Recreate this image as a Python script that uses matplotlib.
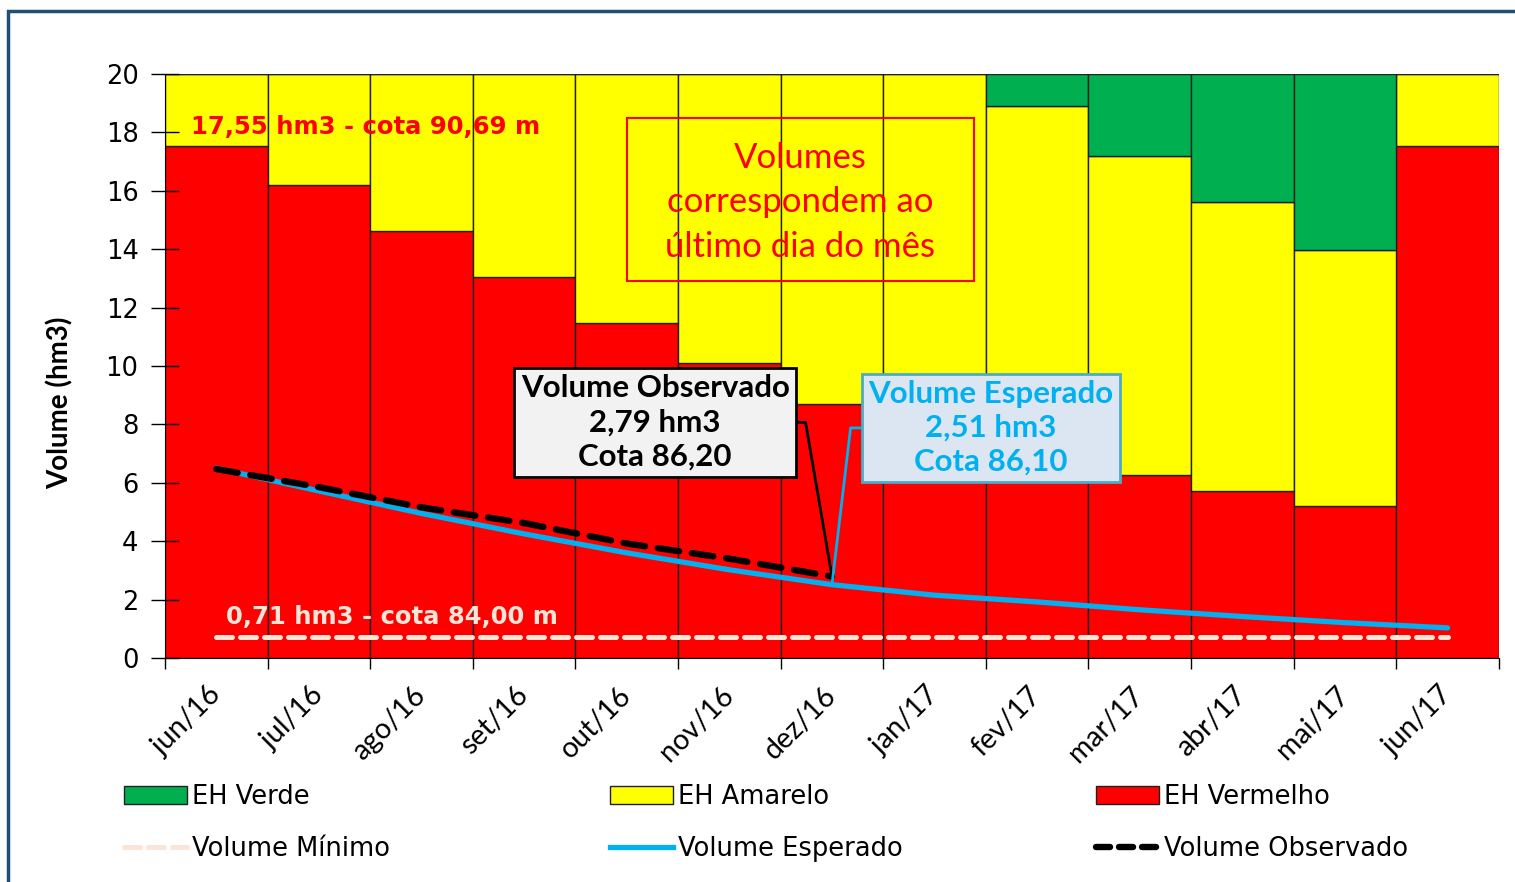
import numpy as np
import matplotlib
matplotlib.use('Agg')
import matplotlib.pyplot as plt
from matplotlib.lines import Line2D
from matplotlib.patches import Patch, Rectangle

# dados
meses = ['jun/16', 'jul/16', 'ago/16', 'set/16', 'out/16', 'nov/16', 'dez/16',
         'jan/17', 'fev/17', 'mar/17', 'abr/17', 'mai/17', 'jun/17']
vermelho = [17.55, 16.2, 14.62, 13.05, 11.47, 10.1, 8.7, 7.7, 6.9, 6.27, 5.72, 5.2, 17.55]
topo_amarelo = [20, 20, 20, 20, 20, 20, 20, 20, 18.9, 17.2, 15.6, 13.97, 20]
volume_max = 20
esperado = [6.5, 5.72, 4.95, 4.25, 3.6, 3.02, 2.51, 2.15, 1.92, 1.65, 1.42, 1.21, 1.03]
observado = [6.47, 5.85, 5.16, 4.62, 3.92, 3.4, 2.79]
volume_minimo = 0.71

x = np.arange(len(meses))
verm = np.array(vermelho)
amar = np.array(topo_amarelo) - verm
verde = volume_max - np.array(topo_amarelo)

fig = plt.figure(figsize=(15.15, 8.82), dpi=100)
ax = fig.add_axes([0.1089, 0.254, 0.8805, 0.6621])

# faixas EH
ax.bar(x, verm, width=1.0, color='#FF0000', edgecolor='#202020', linewidth=1)
ax.bar(x, amar, width=1.0, bottom=verm, color='#FFFF00', edgecolor='#202020', linewidth=1)
ax.bar(x, verde, width=1.0, bottom=topo_amarelo, color='#00B050', edgecolor='#202020', linewidth=1)

# linhas
ax.plot(x, [volume_minimo] * len(x), color='#FBE5D6', lw=3.6, dashes=(3.2, 1.6),
        dash_capstyle='round')
ax.plot(x, esperado, color='#00B0F0', lw=3.8, solid_capstyle='round')
ax.plot(x[:len(observado)], observado, color='black', lw=4.6, dashes=(3.4, 2.0),
        dash_capstyle='round')

ax.set_xlim(-0.5, len(meses) - 0.5)
ax.set_ylim(0, 20)
ax.set_yticks(range(0, 21, 2))
ax.tick_params(axis='y', direction='inout', length=20, width=1, labelsize=18.5, pad=9)
for t in ax.get_yticklabels():
    t.set_family('DejaVu Sans')

ax.set_xticks(x)
ax.set_xticklabels(meses, rotation=45, ha='right', va='center', rotation_mode='anchor',
                   fontsize=20.5, family='Lato')
ax.tick_params(axis='x', length=0, pad=24)
ax.set_xticks(np.arange(-0.5, len(meses)), minor=True)
ax.tick_params(axis='x', which='minor', direction='out', length=8, width=1)

ax.spines['top'].set_visible(False)
ax.spines['right'].set_visible(False)
ax.set_ylabel('Volume (hm3)', fontsize=20, fontweight='bold', family='Lato')
ax.yaxis.set_label_coords(-0.0688, 0.437)

# textos
ax.text(-0.25, 18.2, '17,55 hm3 - cota 90,69 m', color='#FF0000', fontsize=17.5,
        fontweight='bold', va='center', family='DejaVu Sans')
ax.text(0.09, 1.4, '0,71 hm3 - cota 84,00 m', color='#FBE5D6', fontsize=17.5,
        fontweight='bold', va='center', family='DejaVu Sans')
ax.text(5.69, 15.6, 'Volumes\ncorrespondem ao\núltimo dia do mês', color='#FF0000',
        fontsize=25, family='Lato', ha='center', va='center', linespacing=1.47)
ax.add_patch(Rectangle((4.003, 12.91), 3.382, 5.58, fill=False, ec='#FF0000', lw=1.5))

ax.annotate('Volume Observado\n2,79 hm3\nCota 86,20', xy=(6, observado[-1]),
            xytext=(5.587, 8.07), ha='right', va='center', multialignment='center',
            fontsize=22.5, fontweight='bold', family='Lato', color='black', linespacing=1.26,
            bbox=dict(boxstyle='square,pad=0.2', fc='#F2F2F2', ec='black', lw=2),
            arrowprops=dict(arrowstyle='-', color='black', lw=2, shrinkA=0, shrinkB=0,
                            relpos=(1, 0.5),
                            connectionstyle='arc,angleA=0,armA=16,angleB=0,armB=0,rad=0'))
ax.annotate('Volume Esperado\n2,51 hm3\nCota 86,10', xy=(6, esperado[6]),
            xytext=(6.357, 7.88), ha='left', va='center', multialignment='center',
            fontsize=22.5, fontweight='bold', family='Lato', color='#00B0F0', linespacing=1.26,
            bbox=dict(boxstyle='square,pad=0.2', fc='#DCE6F2', ec='#4BACC6', lw=2),
            arrowprops=dict(arrowstyle='-', color='#00B0F0', lw=2, shrinkA=0, shrinkB=0,
                            relpos=(0, 0.5),
                            connectionstyle='arc,angleA=180,armA=18,angleB=0,armB=0,rad=0'))

# legenda em tres colunas
leg_kw = dict(frameon=False, fontsize=18.5, handlelength=2.45, handleheight=0.7,
              handletextpad=0.2, labelspacing=0.98, loc='upper left', borderaxespad=0)
col1 = [Patch(fc='#00B050', ec='#202020'),
        Line2D([], [], color='#FBE5D6', lw=3.6, dashes=(3.2, 1.6), dash_capstyle='round')]
col2 = [Patch(fc='#FFFF00', ec='#202020'),
        Line2D([], [], color='#00B0F0', lw=3.8)]
col3 = [Patch(fc='#FF0000', ec='#202020'),
        Line2D([], [], color='black', lw=4.6, dashes=(2.2, 1.4), dash_capstyle='round')]
fig.legend(col1, ['EH Verde', 'Volume Mínimo'], bbox_to_anchor=(0.0752, 0.1224), **leg_kw)
fig.legend(col2, ['EH Amarelo', 'Volume Esperado'], bbox_to_anchor=(0.396, 0.1224), **leg_kw)
fig.legend(col3, ['EH Vermelho', 'Volume Observado'], bbox_to_anchor=(0.7168, 0.1224), **leg_kw)

# moldura azul
fig.patches.append(Rectangle((0.0055, -0.01), 1.1, 0.998, transform=fig.transFigure,
                             fill=False, ec='#1F4E79', lw=2.5))

fig.savefig('out.png', dpi=100)
